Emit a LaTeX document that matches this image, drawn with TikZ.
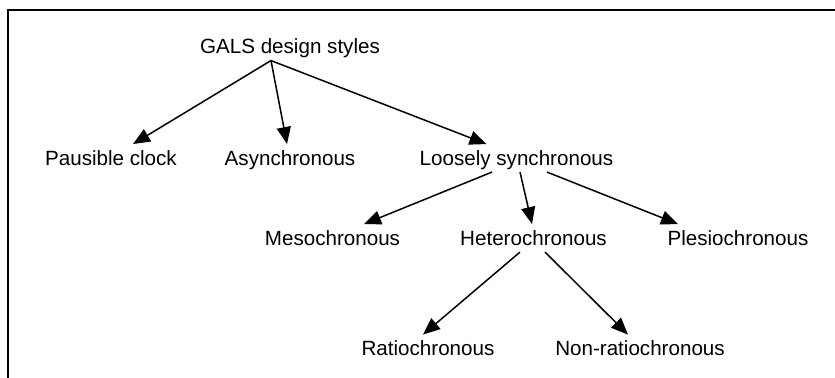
\documentclass[tikz,border=0pt]{standalone}
\usepackage{fontspec}
\setmainfont{Liberation Sans}
\usetikzlibrary{arrows.meta}

\begin{document}
\begin{tikzpicture}
[-,x=0.5pt,y=-0.5pt,%
  lineDecorate/.style={-{Triangle[length=8.5pt,width=7pt]},line width=0.75pt},%
  nodeDecorate/.style={anchor=base,inner sep=0pt,text height=1.02em,text depth=0.3em}]
\fontsize{10.3}{12}\selectfont
\useasboundingbox (0,0) rectangle (835,378);
%% frame
\draw[line width=0.75pt] (835,10) -| (8,378);
%% nodes
\foreach \nodename/\x/\y/\caption in {
  gals/290/54/{GALS design styles},
  pausible/111/165.5/{Pausible clock}, async/290/165.5/{Asynchronous},
  loose/516.5/165.5/{Loosely synchronous},
  meso/332.5/245.5/{Mesochronous}, hetero/533.5/245.5/{Heterochronous},
  plesio/738/245.5/{Plesiochronous},
  ratio/428/356/{Ratiochronous}, nonratio/640/356/{Non-ratiochronous}}
{
  \node[nodeDecorate] (\nodename) at (\x,\y) {\caption};
}
%% connect nodes
\path
([xshift=-9.5pt]gals.south) edge[lineDecorate] ([xshift=11pt]pausible.north)
([xshift=-9.5pt]gals.south) edge[lineDecorate] ([xshift=-1.5pt]async.north)
([xshift=-9.5pt]gals.south) edge[lineDecorate] ([xshift=-15pt]loose.north)
([xshift=-12.25pt]loose.south) edge[lineDecorate] ([xshift=15.75pt]meso.north)
([xshift=1.75pt]loose.south) edge[lineDecorate] ([xshift=-0.75pt]hetero.north)
([xshift=15.25pt]loose.south) edge[lineDecorate] ([xshift=-30pt]plesio.north)
([xshift=-6.75pt]hetero.south) edge[lineDecorate] ([xshift=-2.5pt]ratio.north)
([xshift=5.75pt]hetero.south) edge[lineDecorate] ([xshift=-6pt]nonratio.north);
\end{tikzpicture}
\end{document}
